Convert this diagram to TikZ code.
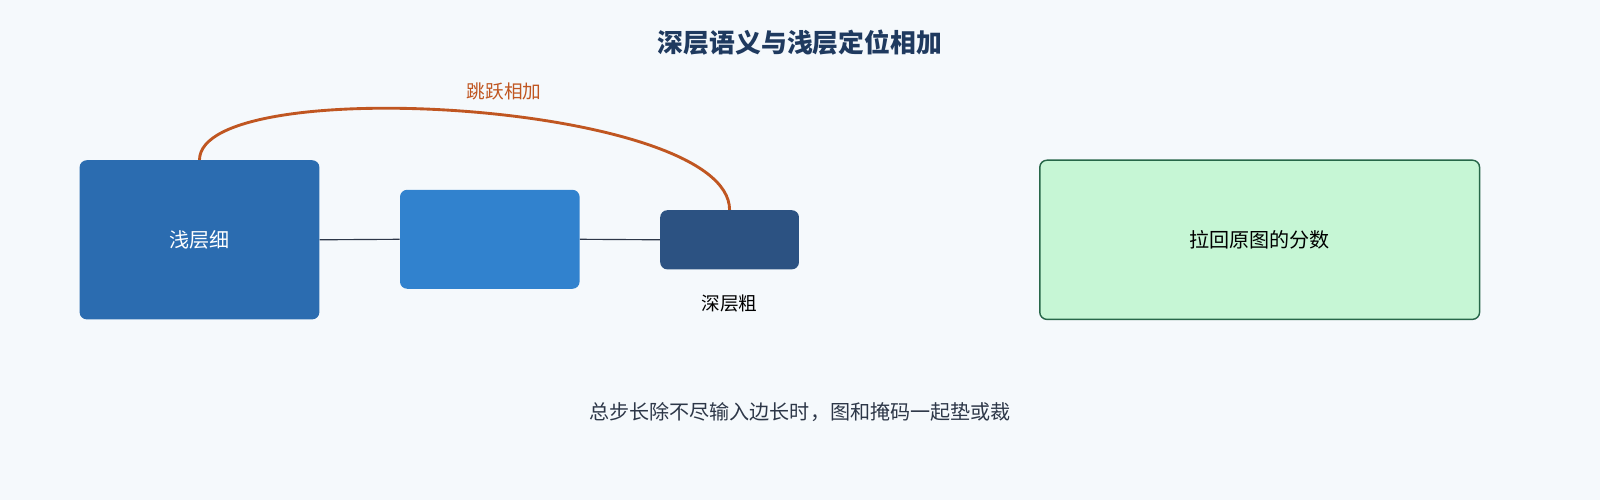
\documentclass[tikz,border=0pt]{standalone}
\usepackage{fontspec}
\setmainfont{Noto Sans CJK SC}
\definecolor{bgc}{HTML}{F5F9FC}
\definecolor{titlec}{HTML}{1F3A5F}
\definecolor{shallowc}{HTML}{2B6CB0}
\definecolor{midc}{HTML}{3182CE}
\definecolor{deepc}{HTML}{2C5282}
\definecolor{skipc}{HTML}{C05621}
\definecolor{outc}{HTML}{C6F6D5}
\definecolor{outline}{HTML}{276749}
\definecolor{textc}{HTML}{2D3748}
\begin{document}
\begin{tikzpicture}[x=0.025cm,y=-0.025cm,
  blk/.style={rounded corners=5pt, draw=none, inner sep=0pt},
  link/.style={draw=textc, line width=0.8pt}]
  \fill[bgc] (0,0) rectangle (1568,490);
  \useasboundingbox (0,0) rectangle (1568,490);

  \node[font=\fontsize{18}{20}\selectfont\bfseries, text=titlec] (title) at (784,42) {深层语义与浅层定位相加};

  \node[blk, fill=shallowc, minimum width=235*0.025cm, minimum height=156*0.025cm,
        text=white, font=\fontsize{14}{16}\selectfont] (shallow) at (195.5,235) {浅层细};
  \node[blk, fill=midc, minimum width=176*0.025cm, minimum height=97*0.025cm] (mid) at (480,234.5) {};
  \node[blk, fill=deepc, minimum width=136*0.025cm, minimum height=58*0.025cm] (deep) at (715,235) {};
  \node[font=\fontsize{13}{15}\selectfont] (deeplbl) at (715,297) {深层粗};

  \draw[link] (shallow.east) -- (mid.west);
  \draw[link] (mid.east) -- (deep.west);

  \draw[skipc, line width=2pt] (shallow.north) .. controls (196,70) and (715,100) .. (deep.north);
  \node[text=skipc, font=\fontsize{13}{15}\selectfont] (skiplbl) at (494,90) {跳跃相加};

  \node[blk, fill=outc, draw=outline, line width=1pt, minimum width=431*0.025cm,
        minimum height=156*0.025cm, font=\fontsize{14}{16}\selectfont] (out) at (1234.5,235) {拉回原图的分数};

  \node[text=textc, font=\fontsize{14}{16}\selectfont] (note) at (784,404) {总步长除不尽输入边长时，图和掩码一起垫或裁};
\end{tikzpicture}
\end{document}
